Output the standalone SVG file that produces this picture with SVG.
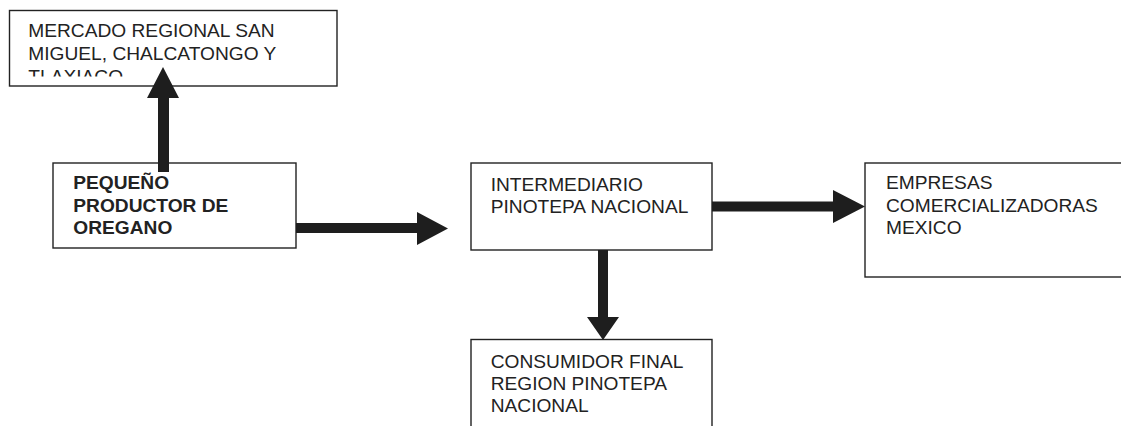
<svg xmlns="http://www.w3.org/2000/svg" width="1121" height="426" viewBox="0 0 1121 426">
<style>
.box{fill:#fff;stroke:#222;stroke-width:1.4}
.t{font-family:"Liberation Sans",Arial,sans-serif;font-size:18.8px;fill:#222}
.b{font-weight:bold}
.arr{fill:#1e1e1e}
</style>
<defs>
<clipPath id="c1"><rect x="9" y="10" width="328" height="66.5"/></clipPath>
</defs>
<rect width="1121" height="426" fill="#fff"/>
<g id="mercado">
<rect class="box" x="9.5" y="10.5" width="327.5" height="75.5"/>
<g clip-path="url(#c1)">
<text class="t" transform="translate(28.3,36.7) scale(1.02,1)"><tspan x="0" y="0">MERCADO REGIONAL SAN</tspan><tspan x="0" y="23.3">MIGUEL, CHALCATONGO Y</tspan><tspan x="0" y="46.6">TLAXIACO</tspan></text>
</g>
</g>
<g id="productor">
<rect class="box" x="53" y="163" width="243" height="85"/>
<text class="t b" transform="translate(73.3,189) scale(1.02,1)"><tspan x="0" y="0">PEQUEÑO</tspan><tspan x="0" y="22.7">PRODUCTOR DE</tspan><tspan x="0" y="45.4">OREGANO</tspan></text>
</g>
<g id="intermediario">
<rect class="box" x="471" y="163" width="241" height="87"/>
<text class="t" transform="translate(490.7,190.6) scale(1.02,1)"><tspan x="0" y="0">INTERMEDIARIO</tspan><tspan x="0" y="22.2">PINOTEPA NACIONAL</tspan></text>
</g>
<g id="empresas">
<rect class="box" x="865" y="163" width="262" height="114"/>
<text class="t" transform="translate(886,189) scale(1.02,1)"><tspan x="0" y="0">EMPRESAS</tspan><tspan x="0" y="22.7">COMERCIALIZADORAS</tspan><tspan x="0" y="45.4">MEXICO</tspan></text>
</g>
<g id="consumidor">
<rect class="box" x="471" y="339.5" width="241" height="100"/>
<text class="t" transform="translate(490.7,368) scale(1.02,1)"><tspan x="0" y="0">CONSUMIDOR FINAL</tspan><tspan x="0" y="22">REGION PINOTEPA</tspan><tspan x="0" y="44">NACIONAL</tspan></text>
</g>
<g id="connectors">
<polygon class="arr" points="158,172 158,98 147,98 163,67 179,98 169,98 169,172"/>
<polygon class="arr" points="296,223 417,223 417,212 448,228.5 417,245 417,233 296,233"/>
<polygon class="arr" points="712,201.5 833,201.5 833,190 865,206.5 833,223 833,211.5 712,211.5"/>
<polygon class="arr" points="598,250 608,250 608,317 619,317 603,340 587,317 598,317"/>
</g>
</svg>
